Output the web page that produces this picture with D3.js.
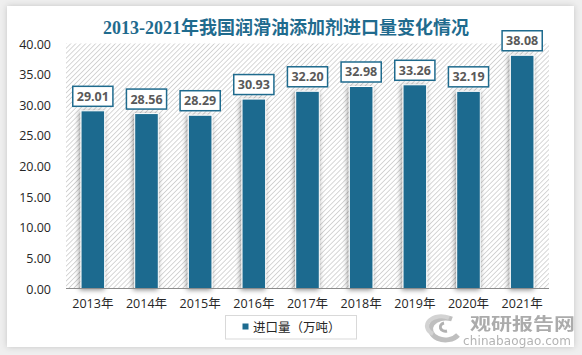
<!DOCTYPE html>
<html>
<head>
<meta charset="utf-8">
<script src="https://cdn.jsdelivr.net/npm/d3@7"></script>
<style>
  html, body { margin: 0; padding: 0; background: #efefef; }
  svg { display: block; }
</style>
</head>
<body>
<svg id="chart" width="582" height="355"></svg>
<script>
// ---- data ----
const categories = ["2013年","2014年","2015年","2016年","2017年","2018年","2019年","2020年","2021年"];
const importVolume = [29.01, 28.56, 28.29, 30.93, 32.20, 32.98, 33.26, 32.19, 38.08];
const yTicks = [0, 5, 10, 15, 20, 25, 30, 35, 40];
const titleText = "2013-2021年我国润滑油添加剂进口量变化情况";
const legendText = "进口量（万吨）";
const watermarkCN = "观研报告网";
const watermarkEN = "chinabaogao.com";

// ---- setup ----
const W = 582, H = 355;
const svg = d3.select("#chart");
const defs = svg.append("defs");
const barColor = "#1d6b8f";

// panel shadow
const fp = defs.append("filter").attr("id","panelShadow").attr("x","-5%").attr("y","-5%").attr("width","110%").attr("height","110%");
fp.append("feDropShadow").attr("dx",0).attr("dy",0).attr("stdDeviation",3).attr("flood-color","#000").attr("flood-opacity",0.18);

// bar shadow
const fb = defs.append("filter").attr("id","barShadow").attr("x","-50%").attr("y","-20%").attr("width","200%").attr("height","140%");
fb.append("feDropShadow").attr("dx",-1).attr("dy",1).attr("stdDeviation",2.5).attr("flood-color","#000").attr("flood-opacity",0.45);

// hatch pattern
const pat = defs.append("pattern").attr("id","hatch").attr("patternUnits","userSpaceOnUse")
  .attr("width",3.5).attr("height",3.5).attr("patternTransform","rotate(45)");
pat.append("rect").attr("width",3.5).attr("height",3.5).attr("fill","#ffffff");
pat.append("line").attr("x1",0).attr("y1",0).attr("x2",0).attr("y2",3.5)
  .attr("stroke","#c6c6c6").attr("stroke-width",1.4);

// background + panel
svg.append("rect").attr("width",W).attr("height",H).attr("fill","#efefef");
svg.append("rect").attr("x",7).attr("y",6).attr("width",567).attr("height",341)
  .attr("fill","#ffffff").attr("filter","url(#panelShadow)");

// scales
const plot = {left: 66, right: 549, top: 43.5, bottom: 288.5};
const x = d3.scaleBand().domain(categories).range([plot.left, plot.right])
  .paddingInner(0.56).paddingOuter(0.28);
const y = d3.scaleLinear().domain([0, 40]).range([plot.bottom, plot.top]);

// plot area hatch
svg.append("rect").attr("x",plot.left).attr("y",plot.top)
  .attr("width",plot.right-plot.left).attr("height",plot.bottom-plot.top)
  .attr("fill","url(#hatch)");

// title
svg.append("text").attr("x",286).attr("y",34).attr("text-anchor","middle")
  .attr("font-family","'Liberation Serif','Noto Sans CJK SC',serif")
  .attr("font-weight","bold").attr("font-size",18).attr("fill","#1f6b8e")
  .text(titleText);

// y axis
const yAxis = d3.axisLeft(y).tickValues(yTicks).tickFormat(d3.format(".2f")).tickSize(0).tickPadding(0);
const yg = svg.append("g").attr("transform",`translate(51,0)`).call(yAxis);
yg.select(".domain").remove();
yg.selectAll("text").attr("font-family","'Open Sans','Noto Sans CJK SC',sans-serif")
  .attr("font-size",12.5).attr("fill","#262626").attr("dy","0.36em");

// bars
svg.append("g").selectAll("rect").data(importVolume).join("rect")
  .attr("x",(d,i)=>x(categories[i]))
  .attr("y",d=>y(d))
  .attr("width",x.bandwidth())
  .attr("height",d=>y(0)-y(d))
  .attr("fill",barColor)
  .attr("stroke","#ffffff").attr("stroke-width",1)
  .attr("filter","url(#barShadow)");

// x axis
const xAxis = d3.axisBottom(x).tickSize(0).tickPadding(11);
const xg = svg.append("g").attr("transform",`translate(0,${plot.bottom})`).call(xAxis);
xg.select(".domain").attr("stroke","#8c8c8c").attr("stroke-width",1.2)
  .attr("d",`M${plot.left},0H${plot.right}`);
xg.selectAll("text").attr("font-family","'Open Sans','Noto Sans CJK SC',sans-serif")
  .attr("font-size",12.5).attr("fill","#262626");

// data labels
const lg = svg.append("g");
importVolume.forEach((d,i)=>{
  const cx = x(categories[i]) + x.bandwidth()/2;
  const boxBottom = y(d) - 4.5;
  const g = lg.append("g");
  const t = g.append("text").attr("x",cx).attr("y",boxBottom-5.5)
    .attr("text-anchor","middle")
    .attr("font-family","'Open Sans',sans-serif").attr("font-weight","bold")
    .attr("font-size",12.5).attr("fill","#595959")
    .text(d.toFixed(2));
  const tw = t.node().getComputedTextLength();
  const bw = tw + 8, bh = 20;
  g.insert("rect","text").attr("x",cx-bw/2).attr("y",boxBottom-bh)
    .attr("width",bw).attr("height",bh)
    .attr("fill","#ffffff").attr("stroke","#1f6b8e").attr("stroke-width",1.5);
});

// legend
const leg = svg.append("g");
leg.append("rect").attr("x",225.5).attr("y",315.5).attr("width",131).attr("height",23.5)
  .attr("fill","#ffffff").attr("stroke","#d9d9d9").attr("stroke-width",1);
leg.append("rect").attr("x",242.5).attr("y",323.5).attr("width",6).attr("height",6).attr("fill",barColor);
leg.append("text").attr("x",253).attr("y",331.5)
  .attr("font-family","'Noto Sans CJK SC',sans-serif").attr("font-size",12.5).attr("fill","#262626")
  .text(legendText);

// watermark
const wm = svg.append("g").attr("opacity",0.9);
wm.append("path").attr("d","M452,319 A15,11 0 1,0 458,335").attr("fill","none")
  .attr("stroke","#b9b9b9").attr("stroke-width",5);
wm.append("path").attr("d","M433,334 A13,9 0 1,1 449,318").attr("fill","none")
  .attr("stroke","#cfcfcf").attr("stroke-width",4);
wm.append("path").attr("d","M444,323 A5,4 0 1,0 447,331").attr("fill","none")
  .attr("stroke","#a9a9a9").attr("stroke-width",3);
wm.append("text").attr("x",470).attr("y",330)
  .attr("font-family","'Noto Sans CJK SC',sans-serif").attr("font-weight","bold")
  .attr("font-size",16.5).attr("fill","#a3a3a3").attr("textLength",105).attr("lengthAdjust","spacingAndGlyphs")
  .text(watermarkCN);
wm.append("text").attr("x",463).attr("y",344.5)
  .attr("font-family","'DejaVu Sans',sans-serif")
  .attr("font-size",12).attr("fill","#ababab").attr("textLength",108)
  .text(watermarkEN);
</script>
</body>
</html>
